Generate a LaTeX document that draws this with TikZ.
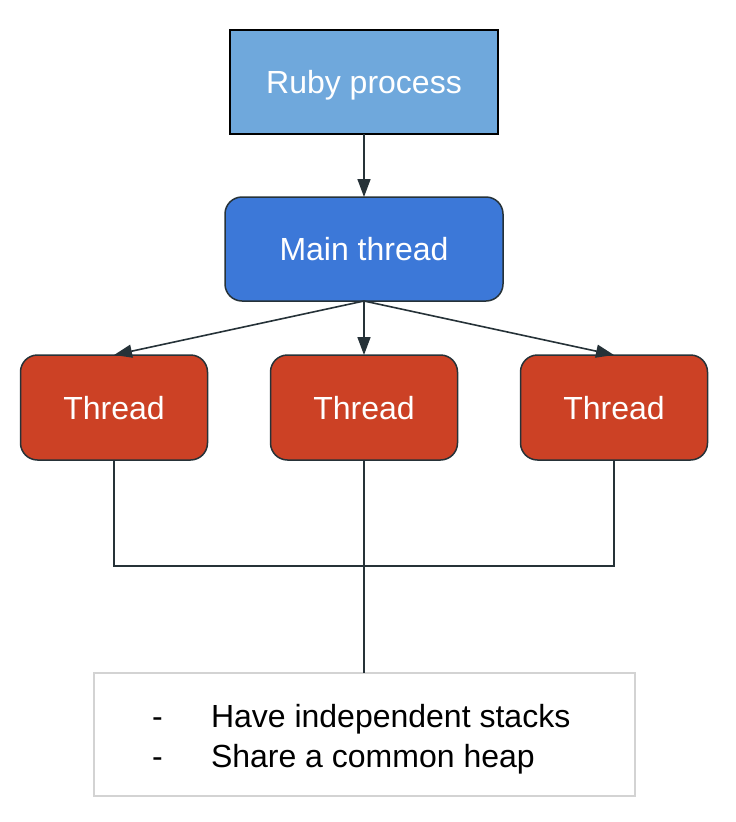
\documentclass[tikz,border=0pt]{standalone}
\usepackage{fontspec}
\setmainfont{Liberation Sans}
\usetikzlibrary{arrows.meta}
\definecolor{rubyfill}{HTML}{6FA8DC}
\definecolor{mainfill}{HTML}{3C78D8}
\definecolor{threadfill}{HTML}{CC4125}
\definecolor{edge}{HTML}{263238}
\definecolor{notegray}{HTML}{D3D3D3}
\tikzset{
  every node/.style={font=\fontsize{32}{38}\selectfont, inner sep=0pt, outer sep=0pt},
  capbox/.style={text height=23pt, text depth=0pt},
  rubybox/.style={capbox, draw=black, line width=1.6pt, fill=rubyfill, text=white, minimum width=268pt, minimum height=104pt},
  mainbox/.style={capbox, draw=edge, line width=1.5pt, fill=mainfill, text=white, rounded corners=17pt, minimum width=278pt, minimum height=104pt},
  threadbox/.style={capbox, draw=edge, line width=1.5pt, fill=threadfill, text=white, rounded corners=17pt, minimum width=187pt, minimum height=105pt},
  notebox/.style={draw=notegray, line width=2pt, fill=white, minimum width=541pt, minimum height=123pt},
  notetext/.style={anchor=base west, text=black},
  arr/.style={draw=edge, line width=1.6pt, -{Triangle[length=18pt,width=13pt]}},
  wire/.style={draw=edge, line width=1.8pt}
}
\begin{document}
\begin{tikzpicture}[x=1pt,y=-1pt]
\useasboundingbox (0,0) rectangle (736,822);
\node[rubybox] (ruby) at (364,82) {Ruby process};
\node[mainbox] (main) at (364,249) {Main thread};
\node[threadbox] (t1) at (114,407.5) {Thread};
\node[threadbox] (t2) at (364,407.5) {Thread};
\node[threadbox] (t3) at (614,407.5) {Thread};
\node[notebox] (note) at (364,734.5) {};
\node[notetext] (d1) at (152,727) {-};
\node[notetext] (l1) at (211,727) {Have independent stacks};
\node[notetext] (d2) at (152,767) {-};
\node[notetext] (l2) at (211,767) {Share a common heap};
\coordinate (bus) at (364,566);
\draw[arr] (ruby.south) -- (main.north);
\draw[arr] (main.south) -- (t1.north);
\draw[arr] (main.south) -- (t2.north);
\draw[arr] (main.south) -- (t3.north);
\draw[wire] (t1.south) |- (bus) -| (t3.south);
\draw[wire] (t2.south) -- (note.north);
\end{tikzpicture}
\end{document}
